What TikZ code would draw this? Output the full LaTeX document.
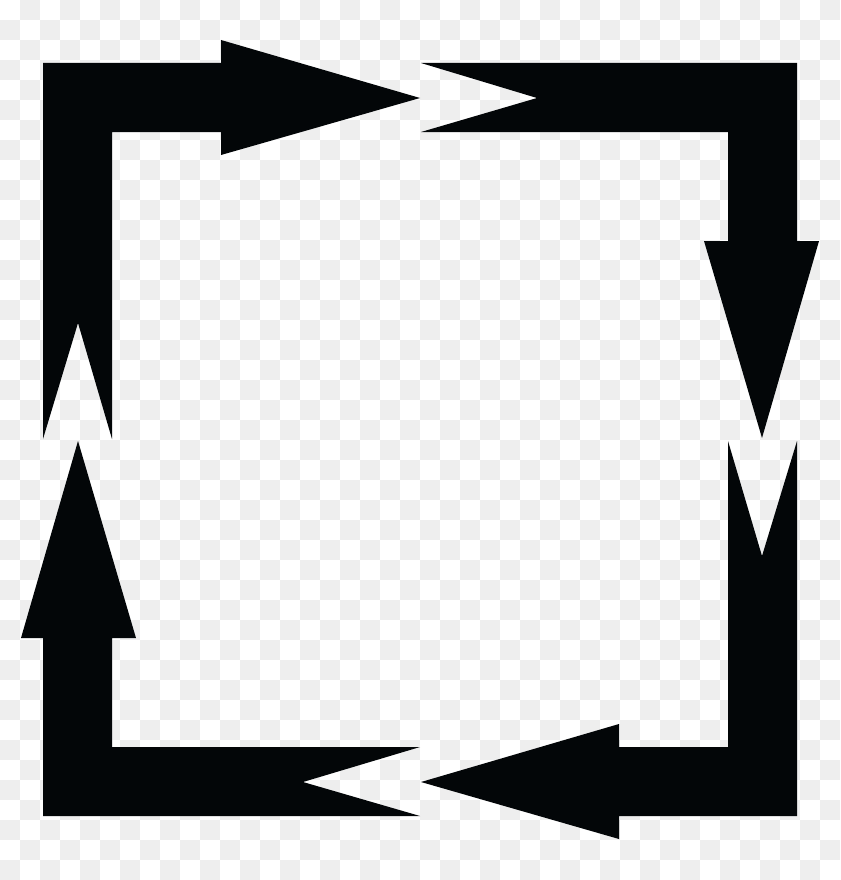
\documentclass[tikz,border=0pt]{standalone}
\usepackage{tikz}
\definecolor{ColArrow}{RGB}{3,6,8}
\definecolor{ColCheck}{RGB}{238,238,238}
\tikzstyle{ArrowShape}=[fill=ColArrow]
\tikzstyle{CheckCell}=[fill=ColCheck]
\begin{document}
\begin{tikzpicture}[x=1pt,y=-1pt]
        \useasboundingbox(0,0)rectangle(840,880);
        % transparency checkerboard
        \fill[white](0,0)rectangle(840,880);
        \foreach \i in {0,...,41}{
            \foreach \j in {0,...,43}{
                \pgfmathtruncatemacro{\odd}{mod(\i+\j,2)}
                \ifnum\odd=1
                    \fill[CheckCell](20*\i,20*\j)rectangle(20*\i+20,20*\j+20);
                \fi
            }
        }
        % top left
        \fill[ArrowShape](43,439)--(43,63)--(221,63)--(221,40)--(420,98)--(221,155)
            --(221,132)--(112,132)--(112,439)--(78,323)--cycle;
        % top right
        \fill[ArrowShape](421,63)--(797,63)--(797,241)--(819,241)--(762,438)--(704,241)
            --(728,241)--(728,132)--(421,132)--(537,98)--cycle;
        % bottom right
        \fill[ArrowShape](728,441)--(762,556)--(797,441)--(797,816)--(619,816)--(619,839)
            --(421,782)--(619,724)--(619,747)--(728,747)--cycle;
        % bottom left
        \fill[ArrowShape](420,747)--(303,782)--(420,816)--(43,816)--(43,638)--(21,638)
            --(78,441)--(136,638)--(112,638)--(112,747)--cycle;
    \end{tikzpicture}
\end{document}
